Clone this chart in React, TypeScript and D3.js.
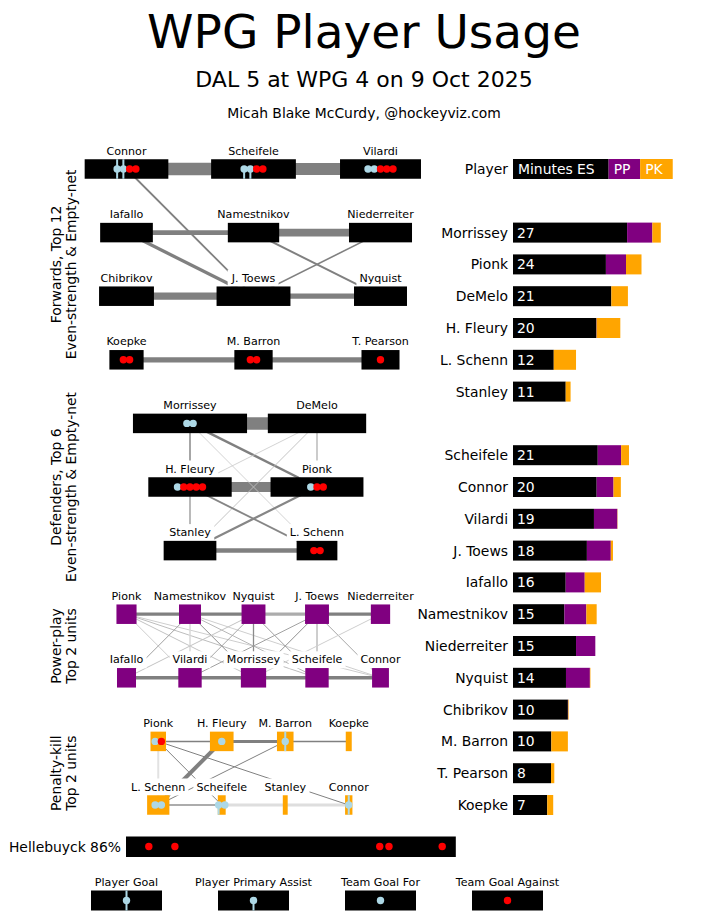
import React, { useEffect, useRef } from 'react';
import * as d3 from 'd3';

// minutes per skater
const skaters = ['Morrissey', 'Pionk', 'DeMelo', 'H. Fleury', 'L. Schenn', 'Stanley', 'Scheifele', 'Connor', 'Vilardi', 'J. Toews', 'Iafallo', 'Namestnikov', 'Niederreiter', 'Nyquist', 'Chibrikov', 'M. Barron', 'T. Pearson', 'Koepke'];
const minutesES = [21.0, 17.1, 18.1, 15.35, 7.5, 9.7, 15.6, 15.4, 14.9, 13.6, 9.7, 9.45, 11.6, 9.75, 10.1, 7.05, 7.0, 6.3];
const minutesPP = [4.65, 3.7, 0, 0.05, 0, 0, 4.3, 3.1, 4.3, 4.4, 3.5, 4.05, 3.55, 4.4, 0.05, 0, 0, 0];
const minutesPK = [1.55, 2.85, 3.05, 4.35, 4.1, 0.9, 1.45, 1.35, 0.05, 0.4, 3.0, 1.9, 0, 0.1, 0.1, 3.05, 0.6, 1.1];

const defenders = ['Morrissey', 'Pionk', 'DeMelo', 'H. Fleury', 'L. Schenn', 'Stanley'];
const forwards = ['Scheifele', 'Connor', 'Vilardi', 'J. Toews', 'Iafallo', 'Namestnikov', 'Niederreiter', 'Nyquist', 'Chibrikov', 'M. Barron', 'T. Pearson', 'Koepke'];

const headerLabels = ['Minutes ES', 'PP', 'PK'];
const headerMinutes = [17.6, 5.8, 6.0];

// units
const fwdLines = [
  ['Connor', 'Scheifele', 'Vilardi'],
  ['Iafallo', 'Namestnikov', 'Niederreiter'],
  ['Chibrikov', 'J. Toews', 'Nyquist'],
  ['Koepke', 'M. Barron', 'T. Pearson'],
];
const defPairs = [
  ['Morrissey', 'DeMelo'],
  ['H. Fleury', 'Pionk'],
  ['Stanley', 'L. Schenn'],
];
const ppUnits = [
  ['Pionk', 'Namestnikov', 'Nyquist', 'J. Toews', 'Niederreiter'],
  ['Iafallo', 'Vilardi', 'Morrissey', 'Scheifele', 'Connor'],
];
const pkUnits = [
  ['Pionk', 'H. Fleury', 'M. Barron', 'Koepke'],
  ['L. Schenn', 'Scheifele', 'Stanley', 'Connor'],
];

// [player, player, shared minutes, share of their time]
type Link = [string, string, number, number];

const esLinks: Link[] = [
  ['Connor', 'Scheifele', 12.5, 1],
  ['Scheifele', 'Vilardi', 12, 1],
  ['Iafallo', 'Namestnikov', 4.7, 1],
  ['Namestnikov', 'Niederreiter', 7.7, 1],
  ['Chibrikov', 'J. Toews', 7.3, 1],
  ['J. Toews', 'Nyquist', 5.3, 1],
  ['Koepke', 'M. Barron', 5.3, 1],
  ['M. Barron', 'T. Pearson', 5.3, 1],
  ['Connor', 'J. Toews', 1.8, 1],
  ['Iafallo', 'J. Toews', 3.3, 1],
  ['Namestnikov', 'Nyquist', 2, 1],
  ['Niederreiter', 'J. Toews', 1.6, 1],
  ['Morrissey', 'DeMelo', 12.5, 1],
  ['H. Fleury', 'Pionk', 10, 1],
  ['Stanley', 'L. Schenn', 4.5, 1],
  ['Morrissey', 'H. Fleury', 1.4, 1],
  ['DeMelo', 'Pionk', 1.1, 0.7],
  ['Morrissey', 'Pionk', 2.5, 1],
  ['DeMelo', 'H. Fleury', 0.8, 0.35],
  ['Morrissey', 'L. Schenn', 0.8, 0.35],
  ['DeMelo', 'Stanley', 0.9, 0.45],
  ['H. Fleury', 'Stanley', 1.2, 0.9],
  ['H. Fleury', 'L. Schenn', 1.9, 0.95],
  ['Pionk', 'Stanley', 2.2, 0.95],
];

const ppLinks: Link[] = [
  ['Pionk', 'Namestnikov', 3.3, 1],
  ['Namestnikov', 'Nyquist', 3.3, 1],
  ['Nyquist', 'J. Toews', 3.3, 0.6],
  ['J. Toews', 'Niederreiter', 3.3, 1],
  ['Iafallo', 'Vilardi', 3.5, 1],
  ['Vilardi', 'Morrissey', 3.5, 1],
  ['Morrissey', 'Scheifele', 3.5, 1],
  ['Scheifele', 'Connor', 3.5, 1],
  ['Pionk', 'Vilardi', 1, 0.3],
  ['Pionk', 'Morrissey', 1, 0.4],
  ['Pionk', 'Scheifele', 1, 0.45],
  ['Pionk', 'Connor', 1, 0.3],
  ['Namestnikov', 'Iafallo', 1, 0.7],
  ['Namestnikov', 'Vilardi', 1.5, 0.2],
  ['Namestnikov', 'Morrissey', 1, 0.85],
  ['Namestnikov', 'Scheifele', 1, 0.5],
  ['Namestnikov', 'Connor', 1, 0.3],
  ['Nyquist', 'Iafallo', 1, 0.4],
  ['Nyquist', 'Vilardi', 1, 0.65],
  ['Nyquist', 'Morrissey', 1.3, 0.9],
  ['Nyquist', 'Scheifele', 1, 0.7],
  ['J. Toews', 'Vilardi', 1, 0.7],
  ['J. Toews', 'Morrissey', 1, 0.85],
  ['J. Toews', 'Scheifele', 1, 0.75],
  ['J. Toews', 'Connor', 1, 0.65],
  ['Niederreiter', 'Morrissey', 1, 0.3],
];

const pkLinks: Link[] = [
  ['Pionk', 'H. Fleury', 1.5, 1],
  ['H. Fleury', 'M. Barron', 3, 1],
  ['M. Barron', 'Koepke', 1.5, 1],
  ['L. Schenn', 'Scheifele', 1.5, 0.85],
  ['Scheifele', 'Stanley', 3, 0.15],
  ['Stanley', 'Connor', 3, 0.15],
  ['Pionk', 'L. Schenn', 2, 0.12],
  ['H. Fleury', 'L. Schenn', 4, 1],
  ['Pionk', 'Scheifele', 1, 1],
  ['M. Barron', 'L. Schenn', 1, 1],
  ['Pionk', 'Connor', 1, 1],
];

// G = player goal, A = primary assist, F = team goal for, X = goal against
const esEvents: Record<string, string> = {
  Connor: 'GGXX',
  Scheifele: 'AAXX',
  Vilardi: 'FFXXX',
  Koepke: 'XX',
  'M. Barron': 'XX',
  'T. Pearson': 'X',
  Morrissey: 'FF',
  'H. Fleury': 'FXXXX',
  Pionk: 'FXX',
  'L. Schenn': 'XX',
};
const ppEvents: Record<string, string> = {};
const pkEvents: Record<string, string> = {
  Pionk: 'FX',
  'H. Fleury': 'F',
  'M. Barron': 'G',
  'L. Schenn': 'FF',
  Scheifele: 'AF',
  Connor: 'G',
};

const goalieName = 'Hellebuyck';
const goalieSvPct = 86;
const goalieMinutes = 60.7;
const goalsAgainstAt = [4.2, 9.0, 46.7, 48.4, 58.2];

const legendLabels = ['Player Goal', 'Player Primary Assist', 'Team Goal For', 'Team Goal Against'];
const legendCodes = ['G', 'A', 'F', 'X'];

const BOX_H = 19.5;
const BAR_H = 20;
const NAME_SIZE = 11.1;
const FONT = "'DejaVu Sans', sans-serif";

export default function App() {
  const ref = useRef<SVGSVGElement>(null);

  useEffect(() => {
    if (!ref.current) return;
    const svg = d3.select(ref.current);
    svg.selectAll('*').remove();

    const slotY = d3.scaleLinear().domain([0, 20]).range([169, 805]);
    const rowY = (r: number) => slotY(2 * r);
    const colX = d3.scaleLinear().domain([-2, 2]).range([126.5, 380.5]);
    const minW = d3.scaleLinear().domain([0, 30]).range([0, 163]);
    const linkW = d3.scaleLinear().domain([0, 10]).range([0, 10]);
    const linkC = d3.scaleLinear<string>().domain([0, 1]).range(['#efefef', '#808080']);

    // titles
    svg.append('text').attr('x', 364).attr('y', 48).attr('text-anchor', 'middle').attr('font-size', 47).text('WPG Player Usage');
    svg.append('text').attr('x', 364).attr('y', 87).attr('text-anchor', 'middle').attr('font-size', 22).text('DAL 5 at WPG 4 on 9 Oct 2025');
    svg.append('text').attr('x', 364).attr('y', 118).attr('text-anchor', 'middle').attr('font-size', 13.9).text('Micah Blake McCurdy, @hockeyviz.com');

    const gLinks = svg.append('g');
    const gLabelBg = svg.append('g');
    const gLabels = svg.append('g');
    const gBoxes = svg.append('g');
    const gEvents = svg.append('g');

    const label = (text: string, x: number, y: number) => {
      const t = gLabels.append('text').attr('x', x).attr('y', y).attr('text-anchor', 'middle').attr('font-size', NAME_SIZE).text(text);
      const bb = (t.node() as SVGTextElement).getBBox();
      gLabelBg.append('rect').attr('x', bb.x - 3).attr('y', bb.y - 2).attr('width', bb.width + 6).attr('height', bb.height + 4).attr('fill', 'white');
    };

    const drawEvents = (cx: number, cy: number, h: number, codes: string) => {
      const n = codes.length;
      codes.split('').forEach((c, i) => {
        const x = cx + (i - (n - 1) / 2) * 6.25;
        if (c === 'G' || c === 'A') {
          gEvents.append('line')
            .attr('x1', x).attr('x2', x)
            .attr('y1', c === 'G' ? cy - h / 2 : cy).attr('y2', cy + h / 2)
            .attr('stroke', 'lightblue').attr('stroke-width', 2);
        }
        gEvents.append('circle').attr('cx', x).attr('cy', cy).attr('r', 3.7).attr('fill', c === 'X' ? 'red' : 'lightblue');
      });
    };

    const drawUnits = (units: string[][], firstRow: number, cols: number[], mins: number[], fill: string, links: Link[], events: Record<string, string>) => {
      const pos = new Map<string, [number, number]>();
      units.forEach((u, r) => u.forEach((name, c) => pos.set(name, [colX(cols[c]), rowY(firstRow + r)])));
      links.forEach(([a, b, m, s]) => {
        const p = pos.get(a);
        const q = pos.get(b);
        if (!p || !q) return;
        gLinks.append('line')
          .attr('x1', p[0]).attr('y1', p[1]).attr('x2', q[0]).attr('y2', q[1])
          .attr('stroke', linkC(s)).attr('stroke-width', linkW(m));
      });
      pos.forEach(([x, y], name) => {
        const w = minW(mins[skaters.indexOf(name)]);
        label(name, x, y - 14.5);
        gBoxes.append('rect').attr('x', x - w / 2).attr('y', y - BOX_H / 2).attr('width', w).attr('height', BOX_H).attr('fill', fill);
        if (events[name]) drawEvents(x, y, BOX_H, events[name]);
      });
    };

    drawUnits(fwdLines, 0, [-2, 0, 2], minutesES, 'black', esLinks, esEvents);
    drawUnits(defPairs, 4, [-1, 1], minutesES, 'black', esLinks, esEvents);
    drawUnits(ppUnits, 7, [-2, -1, 0, 1, 2], minutesPP, 'purple', ppLinks, ppEvents);
    drawUnits(pkUnits, 9, [-1.5, -0.5, 0.5, 1.5], minutesPK, 'orange', pkLinks, pkEvents);

    // section labels
    const sections: [string[], number][] = [
      [['Forwards, Top 12', 'Even-strength & Empty-net'], rowY(1.5)],
      [['Defenders, Top 6', 'Even-strength & Empty-net'], rowY(5)],
      [['Power-play', 'Top 2 units'], rowY(7.5)],
      [['Penalty-kill', 'Top 2 units'], rowY(9.5)],
    ];
    sections.forEach(([lines, cy]) => {
      lines.forEach((l, i) => {
        svg.append('text')
          .attr('transform', `translate(${61 + i * 15},${cy}) rotate(-90)`)
          .attr('text-anchor', 'middle').attr('font-size', 13.9).text(l);
      });
    });

    // right-hand minutes bars
    const barX = 513;
    const colours = ['black', 'purple', 'orange'];
    const gBars = svg.append('g');
    const hy = slotY(0);
    gBars.append('text').attr('x', 508).attr('y', hy + 5).attr('text-anchor', 'end').attr('font-size', 13.9).text('Player');
    let hx = barX;
    headerMinutes.forEach((m, i) => {
      const w = minW(m);
      gBars.append('rect').attr('x', hx).attr('y', hy - BAR_H / 2).attr('width', w).attr('height', BAR_H).attr('fill', colours[i]);
      gBars.append('text').attr('x', hx + 5).attr('y', hy + 5).attr('font-size', 13.9).attr('fill', 'white').text(headerLabels[i]);
      hx += w;
    });

    const slots = [...defenders.map((d, i) => [d, 2 + i] as [string, number]), ...forwards.map((f, i) => [f, 9 + i] as [string, number])];
    slots.forEach(([name, slot]) => {
      const k = skaters.indexOf(name);
      const y = slotY(slot);
      const parts = [minutesES[k], minutesPP[k], minutesPK[k]];
      let x = barX;
      parts.forEach((m, i) => {
        const w = minW(m);
        if (w > 0) gBars.append('rect').attr('x', x).attr('y', y - BAR_H / 2).attr('width', w).attr('height', BAR_H).attr('fill', colours[i]);
        x += w;
      });
      gBars.append('text').attr('x', 508).attr('y', y + 5).attr('text-anchor', 'end').attr('font-size', 13.9).text(name);
      gBars.append('text').attr('x', barX + 4).attr('y', y + 5).attr('font-size', 13.9).attr('fill', 'white').text(String(Math.round(d3.sum(parts))));
    });

    // goalie
    const gy = 846.5;
    const gx = 126;
    svg.append('text').attr('x', 121).attr('y', gy + 5).attr('text-anchor', 'end').attr('font-size', 13.9).text(`${goalieName} ${goalieSvPct}%`);
    svg.append('rect').attr('x', gx).attr('y', gy - 10).attr('width', minW(goalieMinutes)).attr('height', 20.5).attr('fill', 'black');
    goalsAgainstAt.forEach((t) => {
      svg.append('circle').attr('cx', gx + minW(t)).attr('cy', gy).attr('r', 3.7).attr('fill', 'red');
    });

    // legend
    const ly = 900.5;
    legendLabels.forEach((l, i) => {
      const cx = colX(-2 + 2 * i);
      const w = 71;
      svg.append('text').attr('x', cx).attr('y', ly - 14.5).attr('text-anchor', 'middle').attr('font-size', NAME_SIZE).text(l);
      svg.append('rect').attr('x', cx - w / 2).attr('y', ly - 10).attr('width', w).attr('height', 20).attr('fill', 'black');
      const code = legendCodes[i];
      if (code === 'G' || code === 'A') {
        svg.append('line').attr('x1', cx).attr('x2', cx).attr('y1', code === 'G' ? ly - 10 : ly).attr('y2', ly + 10)
          .attr('stroke', 'lightblue').attr('stroke-width', 2);
      }
      svg.append('circle').attr('cx', cx).attr('cy', ly).attr('r', 3.7).attr('fill', code === 'X' ? 'red' : 'lightblue');
    });
  }, []);

  return (
    <svg
      ref={ref}
      width={709}
      height={923}
      style={{ position: 'absolute', left: 0, top: 0, background: '#fff', fontFamily: FONT }}
    />
  );
}
